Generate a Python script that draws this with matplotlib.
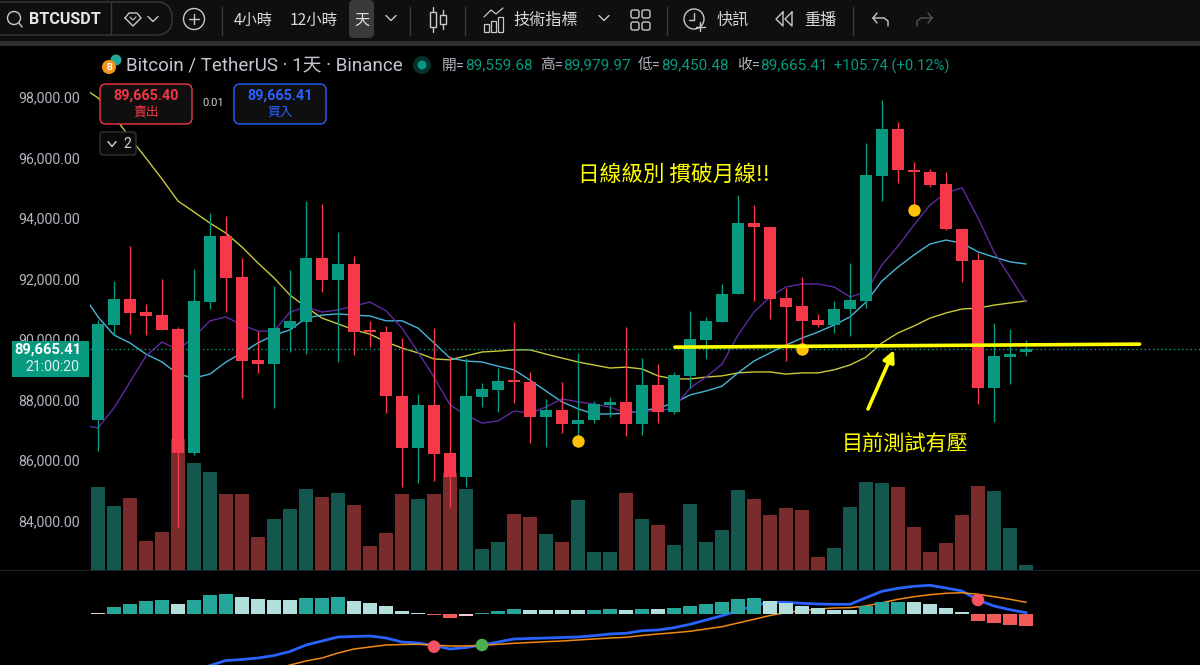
import numpy as np
import matplotlib
matplotlib.use('Agg')
import matplotlib.pyplot as plt
from matplotlib.patches import FancyBboxPatch, Circle, Rectangle, FancyArrowPatch

LAT = ['Roboto', 'Noto Sans CJK TC', 'DejaVu Sans']
CJK = ['Noto Sans CJK TC', 'DejaVu Sans']
plt.rcParams['font.family'] = LAT

# ---------- data ----------
opens = [87320,90460,91320,90890,90790,90330,86230,91220,93400,92050,89310,89170,90360,90560,92680,91950,92480,90260,
         90230,88120,86400,87820,86230,85440,88080,88310,88640,88580,87420,87650,87190,87320,87820,87920,87190,88480,87590,
         88780,89970,90560,91490,93830,93700,91360,91090,90630,90460,90990,91260,95390,96940,95590,95520,95120,93640,92610,88380,89400,89559.68]
highs = [90630,91920,93070,91160,91980,90400,92310,94170,94070,92680,90260,91750,92280,94560,94460,93540,92740,90600,
         90430,90030,88180,90360,89440,89370,88550,89040,90560,88910,88020,88580,89540,87950,88080,90400,89370,89170,88910,
         90930,90730,91820,94760,94430,93700,91690,92050,90830,91260,92510,96480,97900,97170,95850,95620,95520,93640,92840,90530,90330,89979.97]
lows = [86300,90130,90160,90130,90300,83780,86170,90990,90890,88050,88880,87720,89570,89500,91550,89240,89470,89730,
        87550,85110,85240,85300,84450,85110,87750,87590,87880,86560,86430,86890,86590,87220,87420,86790,86830,87220,87520,
        88380,89340,90560,91490,91260,90660,89270,89730,90400,90200,90100,91020,94560,95160,94300,95020,93600,91880,87850,87260,88510,89450.48]
closes = [90500,91320,90860,90760,90300,86230,91260,93400,92020,89270,89170,90360,90600,92680,91950,92480,90230,90230,
          88120,86400,87820,86200,85440,88120,88350,88610,88580,87420,87650,87190,87320,87850,87920,87190,88480,87590,88810,
          90000,90600,91490,93830,93700,91320,91060,90600,90460,90990,91290,95420,96940,95590,95520,95090,93640,92580,88380,89440,89500,89665.41]
volumes = [83,64,72,29,38,131,107,98,76,76,33,51,61,81,73,77,65,24,37,76,71,76,97,81,21,28,56,53,36,28,
           70,18,18,77,51,45,25,66,28,40,80,71,55,62,60,13,22,63,88,87,83,43,18,27,55,84,79,42,5]
ma_slow = [98330,97970,97370,96650,95980,95290,94560,94200,93830,93500,93040,92510,92020,91450,91060,90690,90500,90300,90160,
           89900,89700,89540,89340,89310,89440,89570,89600,89640,89640,89500,89370,89240,89140,89040,89070,89010,88780,88680,88680,
           88740,88780,88880,88910,88910,88840,88880,88880,88980,89140,89400,89870,90200,90430,90690,90860,90990,91020,91120,91190,91260]
ma_mid = [91520,90730,90130,89870,89500,89240,88840,88710,88840,89240,89540,89870,90130,90300,90690,90790,90830,90790,90760,
          90600,90600,90360,89870,89370,89270,89240,89100,88980,88640,88280,87920,87690,87520,87520,87550,87620,87720,87880,88150,
          88280,88440,88880,89270,89540,89800,90030,90230,90460,90730,91220,91920,92380,92780,93140,93270,93170,92880,92710,92550,92480]
ma_fast = [87150,87060,87720,88580,89440,89900,89640,90070,90600,90730,90460,90260,90260,90890,91060,90890,90960,91090,91220,
           90930,90360,89570,88740,87820,87490,87220,87290,87620,87550,87750,88020,87920,87850,87750,87550,87620,87620,87720,
           88380,88740,89170,90130,90890,91390,91720,91820,91820,91720,91390,91550,92450,93070,93770,94430,94830,95000,94000,92880,92050,91220]
marker_days = [30, 44, 51]
marker_prices = [86630, 89670, 94260]
hist = [0.5,6.5,10,13,14,10,14,18.5,19.5,17,15,14,14,16,16,17,13,11,7.5,2.7,1,-1.5,-4,-2,1,2.7,4.7,3.7,3.7,3.7,3.7,3.7,4.7,3.7,
        4.7,4.7,5.7,7.7,9.3,11.3,14.7,15.7,13,10.3,7.7,5.7,3.7,3.7,7.7,11.3,12,11.3,9.3,5.7,2,-7,-9,-11,-12]
hist_kind = 'p' + 'dddd' + 'l' + 'ddd' + 'llll' + 'ddd' + 'lllll' + 'rr' + 'p' + 'ddd' + 'llll' + 'dd' + 'l' + 'd' + 'l' + 'dddddd' + 'llllll' + 'ddd' + 'llll' + 'rrrr'
macd = [-59.3,-51.8,-46.8,-45.8,-44.3,-41.8,-37.8,-31.3,-27.3,-23.3,-22.8,-22.3,-24.3,-28.3,-29.3,-31.8,-35.3,-33.8,-31.3,-28.3,-25.3,
        -24.8,-24.3,-23.8,-23.3,-22,-20.3,-19.6,-17,-16.3,-14,-10.6,-6.3,-2,3,8,11.4,11.4,10.4,9.7,9.4,9.4,16,22.4,25.4,27.4,28.4,25.7,22.7,13.7,7.7,4,1]
signal = [-55.3,-51.3,-47.3,-44.3,-39.3,-35.3,-33.3,-31.3,-30.8,-30.6,-31.3,-32.3,-32.3,-31.6,-30.6,-29.6,-28.8,-28,-27.3,-26.3,-25.3,-24.3,
          -23.6,-21.8,-20.3,-19,-17.6,-15.3,-13,-9.3,-5.6,-1.8,1.2,3,4.7,5.7,6,7.7,11,14.4,17,19,20.4,21,19.4,17,14.4,11.4]
cross_days = [21, 24, 55]
cross_values = [-33, -31.3, 13.7]
cross_colors = ['#f7525f', '#4caf50', '#f7525f']
price_ticks = [84000, 86000, 88000, 90000, 92000, 94000, 96000, 98000]
last_price = 89665.41
support_days = [36.06, 65.1]
support_prices = [89730, 89830]

# ---------- colours ----------
GREEN, RED = '#089981', '#f5394b'
VGREEN, VRED = '#14574f', '#7a2b2b'
KIND = {'d': '#26a69a', 'l': '#b2dfdb', 'r': '#f25a5a', 'p': '#f5c9ce'}
GREY = '#b2b5be'
YEL = '#ffff00'

W, H = 1200, 665
fig = plt.figure(figsize=(W/100, H/100), dpi=100, facecolor='#000000')

def rect(x0, y0, x1, y1):
    return [x0/W, 1-y1/H, (x1-x0)/W, (y1-y0)/H]

XLIM = (-0.5, 68.875)
# ---------- volume ----------
av = fig.add_axes(rect(90, 46, 1200, 570), zorder=1, facecolor='#000000')
x = np.arange(len(opens))
o, h, l, c = map(np.array, (opens, highs, lows, closes))
up = c >= o
av.bar(x, volumes, width=0.93, color=[VGREEN if u else VRED for u in up], linewidth=0)
av.set_xlim(*XLIM); av.set_ylim(0, 524); av.axis('off')

# ---------- price ----------
ax = fig.add_axes(rect(90, 46, 1200, 570), zorder=2)
ax.patch.set_alpha(0)
for a, col, lw in ((ma_slow, '#c9c93a', 1.0), (ma_mid, '#46b5d8', 1.0), (ma_fast, '#5f2aa0', 1.0)):
    ax.plot(np.arange(-1, len(a)-1), a, color=col, lw=lw, zorder=2, solid_joinstyle='round')
ax.axhline(last_price, color=GREEN, lw=1, ls=(0, (1, 2)), zorder=2)
cols = [GREEN if u else RED for u in up]
ax.vlines(x, l, h, colors=cols, lw=1.0, zorder=3)
ax.bar(x, np.maximum(np.abs(c-o), 60), bottom=np.minimum(o, c), width=0.76, color=cols, linewidth=0, zorder=4)
ax.scatter(marker_days, marker_prices, s=80, color='#ffc107', linewidths=0, zorder=5)
ax.plot(support_days, support_prices, color=YEL, lw=2.6, solid_capstyle='round', zorder=6)
ax.set_xlim(*XLIM)
ax.set_ylim(98000-524*33.06+ (97-46)*33.06, 98000+(97-46)*33.06)
ax.set_xticks([])
ax.set_yticks(price_ticks)
ax.set_yticklabels([f'{t:,.2f}' for t in price_ticks], color=GREY, fontsize=10.2)
ax.tick_params(axis='y', length=0, pad=7)
for s in ax.spines.values():
    s.set_visible(False)

# ---------- MACD ----------
am = fig.add_axes(rect(90, 571, 1200, 665), zorder=2, facecolor='#000000')
am.plot(np.arange(len(opens)-len(macd), len(opens)), macd, color='#2962ff', lw=2.0, zorder=2)
am.plot(np.arange(len(opens)-len(signal), len(opens)), signal, color='#f08a14', lw=1.1, zorder=2)
am.bar(x, hist, width=0.93, color=[KIND[k] for k in hist_kind], linewidth=0, zorder=3)
am.scatter(cross_days, cross_values, s=82, c=cross_colors, linewidths=0, zorder=4)
am.set_xlim(*XLIM); am.set_ylim(-51.3, 42.7); am.axis('off')

# ---------- overlay in pixel coordinates ----------
ov = fig.add_axes([0, 0, 1, 1], zorder=5)
ov.set_xlim(0, W); ov.set_ylim(H, 0); ov.axis('off'); ov.patch.set_alpha(0)

def T(px, py, s, size=10, color='#d1d4dc', ha='left', fam=LAT, **kw):
    ov.text(px, py, s, fontsize=size, color=color, ha=ha, va='center', family=fam, **kw)
def L(xs, ys, color='#c8c8c8', lw=1.0, **kw):
    ov.plot(xs, ys, color=color, lw=lw, solid_capstyle='round', **kw)
def box(x0, y0, x1, y1, r, fc='none', ec='none', lw=1.0):
    ov.add_patch(FancyBboxPatch((x0+r, y0+r), x1-x0-2*r, y1-y0-2*r, boxstyle=f'round,pad={r}',
                                fc=fc, ec=ec, lw=lw, zorder=2))
def chev(cx, cy, w=5, color='#c8c8c8'):
    L([cx-w, cx, cx+w], [cy-2.5, cy+2.5, cy-2.5], color=color, lw=1.0)

# separator between panes
ov.add_patch(Rectangle((0, 570), W, 1, fc='#1e222d', ec='none'))
# toolbar
ov.add_patch(Rectangle((0, 0), W, 41, fc='#0f0f0f', ec='none'))
ov.add_patch(Rectangle((0, 41), W, 5, fc='#2e2e2e', ec='none'))
box(-16, 2, 172, 35, 16, ec='#3a3a3a', lw=1.0)
L([111, 111], [3, 34], color='#3a3a3a')
ov.add_patch(Circle((14, 18), 6.5, fc='none', ec='#c8c8c8', lw=1.0))
L([19, 22], [23, 27], lw=1.0)
T(29, 19, 'BTCUSDT', 11.6, '#e6e6e6', weight='bold')
L([125, 129, 137, 141, 133, 125], [18, 13, 13, 18, 26, 18], lw=1.0)
L([130, 133, 136], [17, 20, 17], lw=0.8)
chev(153, 19)
ov.add_patch(Circle((194, 19), 10.5, fc='none', ec='#c8c8c8', lw=1.0))
L([189, 199], [19, 19]); L([194, 194], [14, 24])
for dx in (222, 410, 465, 667, 853):
    L([dx, dx], [7, 35], color='#3a3a3a')
T(234, 20, '4小時', 11.0, '#d8d8d8', fam=CJK)
T(290, 20, '12小時', 11.2, '#d8d8d8', fam=CJK)
box(349, 0, 374, 38, 5, fc='#3a3a3a')
T(361.5, 20, '天', 11, '#e0e0e0', ha='center', fam=CJK)
chev(391, 18)
# candle icon
L([433, 433], [7, 32]); ov.add_patch(Rectangle((430, 12), 6, 15, fc='#0f0f0f', ec='#c8c8c8', lw=1, zorder=3))
L([443, 443], [10, 29]); ov.add_patch(Rectangle((440, 15), 6, 9, fc='#0f0f0f', ec='#c8c8c8', lw=1, zorder=3))
# indicators icon
for bx, by in ((484, 24), (491, 21), (498, 17)):
    ov.add_patch(Rectangle((bx, by), 5, 32-by, fc='none', ec='#c8c8c8', lw=0.9))
L([484, 491, 496, 503], [17, 10, 14, 8], lw=0.9)
T(513, 20, '技術指標', 11.6, '#d8d8d8', fam=CJK)
chev(604, 18)
for gx, gy in ((631, 10), (642, 10), (631, 22), (642, 22)):
    box(gx, gy, gx+8, gy+8, 2, ec='#c8c8c8', lw=1.0)
# alert icon
ov.add_patch(Circle((694, 19), 10, fc='none', ec='#c8c8c8', lw=1.0))
L([694, 694, 689], [13, 20, 20]); L([700, 700], [22, 31]); L([696, 705], [27, 27])
T(717, 20, '快訊', 11.6, '#d8d8d8', fam=CJK)
L([783, 776, 783, 783], [12, 19, 26, 12]); L([792, 785, 792, 792], [12, 19, 26, 12])
T(804, 20, '重播', 11.6, '#d8d8d8', fam=CJK)
L([873, 877], [18, 13]); L([873, 877], [18, 23]); L([873, 884, 888, 888], [18, 18, 21, 26])
L([932, 928], [18, 13], color='#555555'); L([932, 928], [18, 23], color='#555555')
L([932, 921, 917, 917], [18, 18, 21, 26], color='#555555')

# legend row
ov.add_patch(Circle((116, 60), 5.5, fc='#26a69a', ec='none', zorder=2))
ov.add_patch(Circle((109, 67), 7, fc='#f7931a', ec='none', zorder=3))
T(109, 67, 'B', 6.5, '#ffffff', ha='center', weight='bold', zorder=4)
T(126, 65.5, 'Bitcoin / TetherUS · 1天 · Binance', 13.5, '#c4c7d0')
ov.add_patch(Circle((422, 65), 9, fc='#07302b', ec='none'))
ov.add_patch(Circle((422, 65), 4.5, fc=GREEN, ec='none'))
for lx, lab, vx, val in ((442, '開=', 465, '89,559.68'), (540, '高=', 563, '89,979.97'),
                         (638, '低=', 661, '89,450.48'), (737, '收=', 760, '89,665.41')):
    T(lx, 65.5, lab, 10.6, GREY)
    T(vx, 65, val, 11.0, GREEN)
T(834, 66, '+105.74 (+0.12%)', 10.6, GREEN)

# trade buttons
box(100, 84, 192, 124, 6, fc='#0f0f0f', ec='#f23645', lw=1.0)
T(146, 96, '89,665.40', 10.4, '#f23645', ha='center', weight='bold')
T(146, 112, '賣出', 9.2, '#f23645', ha='center', fam=CJK)
T(213, 103, '0.01', 8, '#d1d4dc', ha='center')
box(234, 84, 326, 124, 6, fc='#0f0f0f', ec='#2962ff', lw=1.0)
T(280, 96, '89,665.41', 10.4, '#2962ff', ha='center', weight='bold')
T(280, 112, '買入', 9.2, '#2962ff', ha='center', fam=CJK)
box(100, 132, 136, 155, 3, fc='#0a0a0a', ec='#333333', lw=1.0)
chev(112, 144, w=4, color='#d1d4dc')
T(123, 144, '2', 10, '#d1d4dc')

# last price tag
ov.add_patch(Rectangle((12, 341), 77, 36, fc=GREEN, ec='none', zorder=2))
T(48, 350, '89,665.41', 10.6, '#ffffff', ha='center', weight='bold', zorder=3)
T(52, 367, '21:00:20', 10.2, '#d8f0ea', ha='center', zorder=3)

# annotations
T(578, 175, '日線級別 摜破月線!!', 15.6, YEL, fam=CJK)
T(842, 445, '目前測試有壓', 15.2, YEL, fam=CJK)
ov.add_patch(FancyArrowPatch((868, 409), (894, 350), arrowstyle='-|>', mutation_scale=17, lw=2.6,
                             color=YEL, shrinkA=0, shrinkB=0, capstyle='round'))

fig.savefig('out.png', dpi=100, facecolor='#000000')
